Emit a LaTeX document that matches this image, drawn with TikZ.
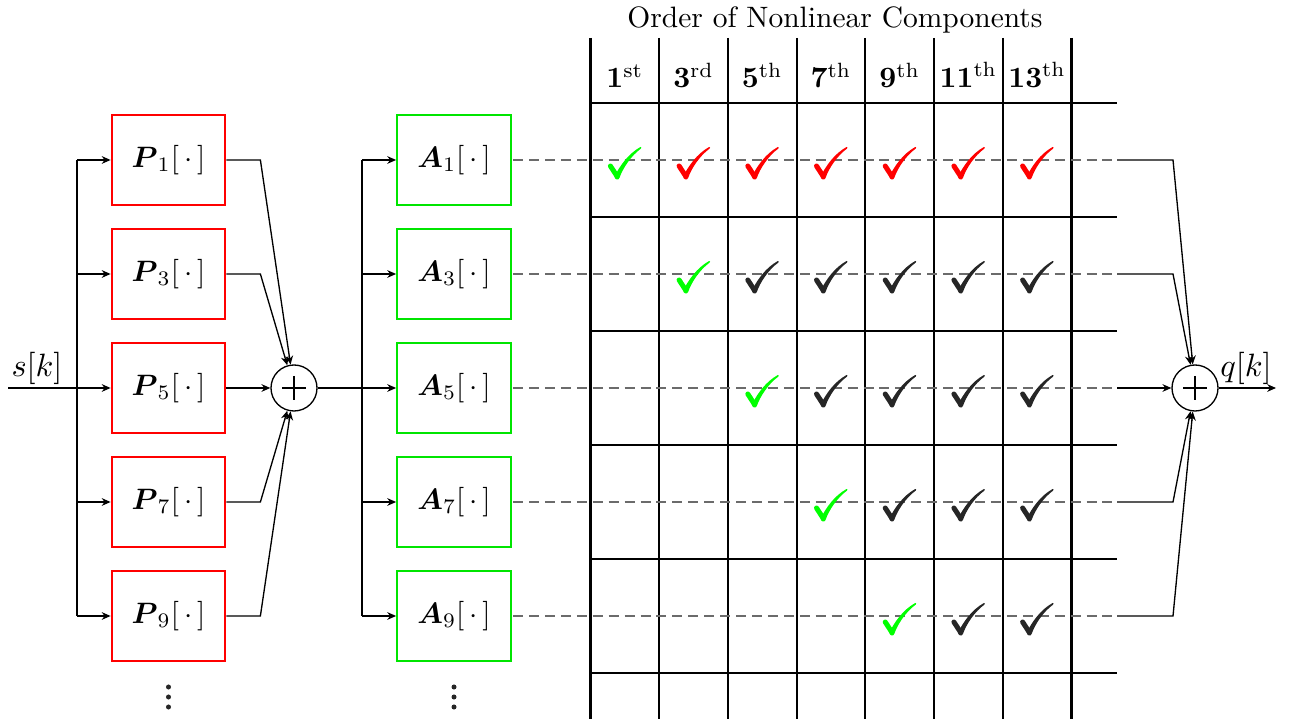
\documentclass[tikz,border=0pt]{standalone}
\usepackage{amsmath,amssymb}
\usetikzlibrary{arrows.meta}
\begin{document}
\begin{tikzpicture}[x=0.339pt,y=-0.339pt,
  pbox/.style={draw=red, minimum width=38.6pt, minimum height=30.5pt, inner sep=0pt, line width=0.65pt},
  abox/.style={draw=green!90!black, minimum width=38.6pt, minimum height=30.5pt, inner sep=0pt, line width=0.65pt},
  sumnode/.style={draw, circle, minimum size=15.6pt, inner sep=0pt, line width=0.45pt},
  arr/.style={-{Stealth[length=3pt,width=2.6pt]}, line width=0.45pt},
  conn/.style={line width=0.45pt},
  gridline/.style={line width=0.75pt},
  dashline/.style={draw=black!58, line width=0.9pt, dash pattern=on 3.4pt off 2pt},
  hdr/.style={anchor=base, inner sep=0pt},
  sig/.style={anchor=base, inner sep=0pt, font=\fontsize{11}{13}\selectfont},
  vdot/.style={circle, fill=black!85, inner sep=0pt, minimum size=1.7pt},
  ckm/.pic={
    \draw[line width=1.7pt, line cap=round] (-14.5,3) -- (-8,13);
    \fill (-10.5,13.5) .. controls (-5,3) and (3,-9) .. (15.5,-16)
      .. controls (16.5,-16.4) and (16.8,-15) .. (16,-14.4)
      .. controls (6,-7) and (-2,5) .. (-5.5,15)
      .. controls (-6.5,17.5) and (-10,17) .. cycle;
  },
]
\useasboundingbox (0,0) rectangle (1290,719);

% title
\node[hdr] (title) at (835,27.5) {Order of Nonlinear Components};

% grid
\foreach \k in {0,...,7} {
  \draw[gridline] ({590.5+68.7*\k},38) -- ({590.5+68.7*\k},719);
}
\foreach \yy in {103,217,331,445,559,673} {
  \draw[gridline] (590.5,\yy) -- (1117,\yy);
}
% header labels
\foreach \n/\sfx [count=\k from 0] in {1/st,3/rd,5/th,7/th,9/th,11/th,13/th} {
  \node[hdr] (h\n) at ({624.9+68.7*\k},88) {$\mathbf{\n}^{\mathrm{\sfx}}$};
}

% blocks
\foreach \i/\yy in {1/160,3/274,5/388,7/502,9/616} {
  \node[pbox] (P\i) at (168.5,\yy) {$\boldsymbol{P}_{\i}[\,\cdot\,]$};
  \node[abox] (A\i) at (454,\yy) {$\boldsymbol{A}_{\i}[\,\cdot\,]$};
  \coordinate (b\i) at (77,\yy);
  \coordinate (c\i) at (362,\yy);
  \coordinate (d\i) at (1117,\yy);
}
\foreach \yy [count=\m] in {687,697,707} {
  \node[vdot] (dp\m) at (168.5,\yy) {};
  \node[vdot] (da\m) at (454,\yy) {};
}

% sums
\node[sumnode] (S1) at (294,388) {};
\node[sumnode] (S2) at (1195,388) {};
\foreach \s in {S1,S2} {
  \draw[line width=0.42pt] (\s.center) ++(-12,0) -- ++(24,0);
  \draw[line width=0.42pt] (\s.center) ++(0,-12) -- ++(0,24);
}

% input
\coordinate (in) at (8,388);
\node[sig] (sk) at (37,377) {$s[k]$};
\draw[arr] (in) -- (P5);
\draw[conn] (b1) -- (b9);
\foreach \i in {1,3,7,9} { \draw[arr] (b\i) -- (P\i); }

% P outputs to sum
\foreach \i in {1,3,7,9} { \draw[arr] (P\i.east) -- ++(34,0) -- (S1); }
\draw[arr] (P5) -- (S1);

% sum to A
\draw[arr] (S1) -- (A5);
\draw[conn] (c1) -- (c9);
\foreach \i in {1,3,7,9} { \draw[arr] (c\i) -- (A\i); }

% dashed lines
\foreach \i in {1,3,5,7,9} { \draw[dashline] ([xshift=0.4pt]A\i.east) -- (d\i); }

% to right sum
\foreach \i in {1,3,7,9} { \draw[arr] (d\i) -- ++(56,0) -- (S2); }
\draw[arr] (d5) -- (S2);
\coordinate (out) at (1276,388);
\draw[arr] (S2) -- (out);
\node[sig] (qk) at (1246,377) {$q[k]$};

% checks
\pic[color=green] (ck00) at (624.9,163) {ckm};
\foreach \c in {1,...,6} {
  \pic[color=red] (ck0\c) at ({624.9+68.7*\c},163) {ckm};
}
\foreach \r/\yy in {1/277,2/391,3/505,4/619} {
  \pic[color=green] (ck\r\r) at ({624.9+68.7*\r},\yy) {ckm};
  \pgfmathtruncatemacro\st{\r+1}
  \foreach \c in {\st,...,6} {
    \pic[color=black!85] (ck\r\c) at ({624.9+68.7*\c},\yy) {ckm};
  }
}
\end{tikzpicture}
\end{document}
